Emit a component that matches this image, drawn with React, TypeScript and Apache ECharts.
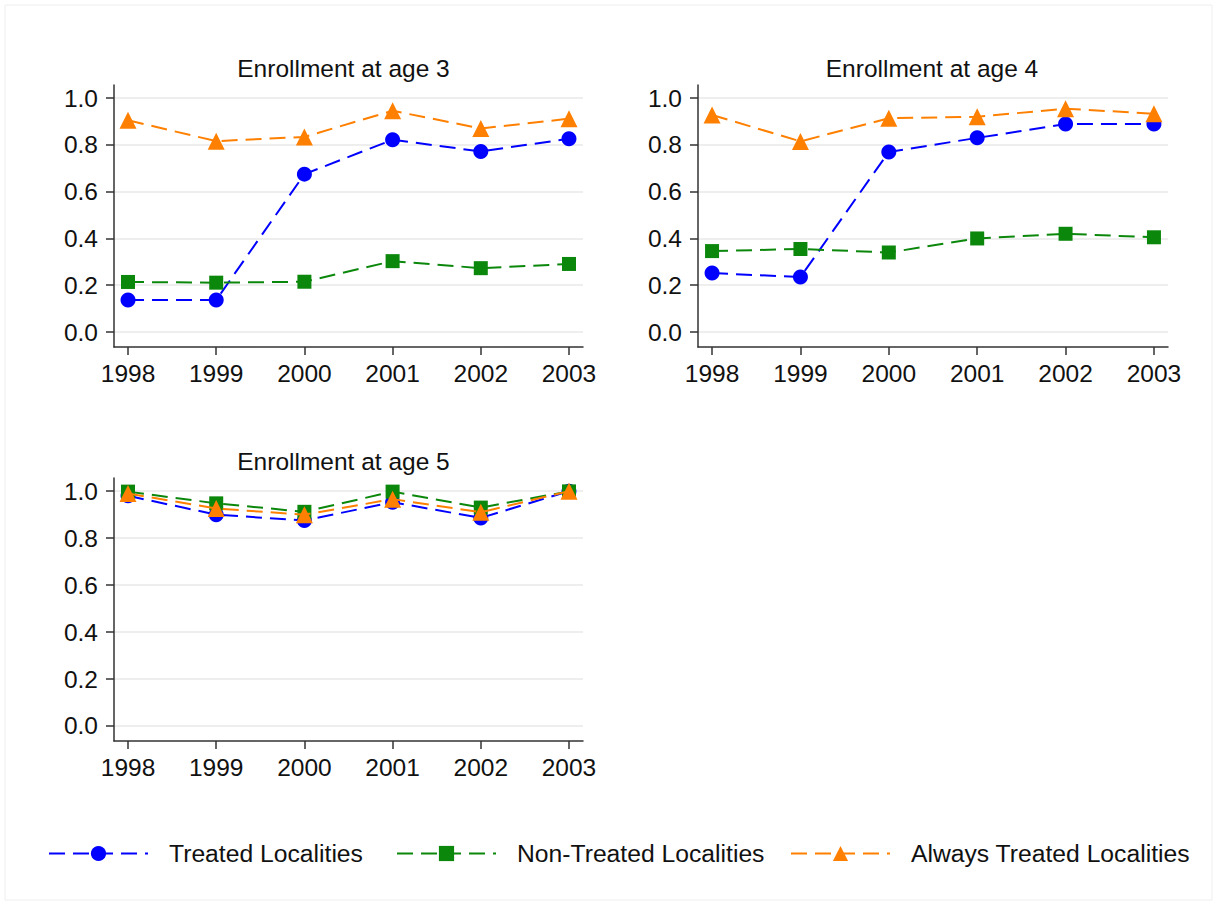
import React, { useEffect, useRef } from "react";
import * as echarts from "echarts";

const years = [1998, 1999, 2000, 2001, 2002, 2003];
const yTicks = [0, 0.2, 0.4, 0.6, 0.8, 1.0];
const panelTitles = ["Enrollment at age 3", "Enrollment at age 4", "Enrollment at age 5"];
const seriesNames = ["Treated Localities", "Non-Treated Localities", "Always Treated Localities"];

const age3Treated = [0.137, 0.137, 0.675, 0.822, 0.772, 0.826];
const age3NonTreated = [0.214, 0.211, 0.215, 0.303, 0.273, 0.291];
const age3Always = [0.905, 0.816, 0.834, 0.946, 0.87, 0.912];

const age4Treated = [0.252, 0.235, 0.77, 0.83, 0.889, 0.889];
const age4NonTreated = [0.346, 0.355, 0.34, 0.4, 0.42, 0.405];
const age4Always = [0.928, 0.815, 0.914, 0.92, 0.955, 0.933];

const age5Treated = [0.98, 0.9, 0.875, 0.953, 0.886, 1.0];
const age5NonTreated = [0.998, 0.948, 0.912, 0.998, 0.93, 0.999];
const age5Always = [0.99, 0.926, 0.9, 0.966, 0.91, 1.0];

const colors = ["#0000ff", "#0b870b", "#ff8000"];
const symbols = ["circle", "rect", "triangle"];
const symbolSizes = [15, 14, 17];

const panels = [
  [age3Treated, age3NonTreated, age3Always],
  [age4Treated, age4NonTreated, age4Always],
  [age5Treated, age5NonTreated, age5Always],
];

const grids = [
  { left: 114, top: 85, width: 469, height: 262 },
  { left: 698, top: 85, width: 470, height: 262 },
  { left: 114, top: 478, width: 469, height: 263 },
];
const titleShift = [-10, -6, -10];

const FONT = "'Liberation Sans', Arial, sans-serif";

export default function App() {
  const ref = useRef<HTMLDivElement>(null);
  useEffect(() => {
    if (!ref.current) return;
    const chart = echarts.init(ref.current, null, { renderer: "svg" });
    const xAxes = grids.map((_, i) => ({
      type: "value",
      gridIndex: i,
      min: 1997.841,
      max: 2003.159,
      axisLine: { show: true, onZero: false, lineStyle: { color: "#333", width: 1.5 } },
      axisTick: { show: true, customValues: years, length: 8, lineStyle: { color: "#333", width: 1.5 } },
      axisLabel: {
        customValues: years,
        formatter: (v: number) => String(Math.round(v)),
        fontSize: 24.5,
        fontFamily: FONT,
        color: "#111",
        margin: 14,
      },
      splitLine: { show: false },
    }));
    const yAxes = grids.map((_, i) => ({
      type: "value",
      gridIndex: i,
      min: -0.064,
      max: 1.056,
      axisLine: { show: true, lineStyle: { color: "#333", width: 1.5 } },
      axisTick: { show: true, customValues: yTicks, length: 8, lineStyle: { color: "#333", width: 1.5 } },
      axisLabel: {
        customValues: yTicks,
        formatter: (v: number) => v.toFixed(1),
        fontSize: 24.5,
        fontFamily: FONT,
        color: "#111",
        margin: 16,
      },
      splitLine: { show: true, lineStyle: { color: "#e8e8e8", width: 1.5 } },
    }));
    const series: any[] = [];
    panels.forEach((panel, p) => {
      panel.forEach((vals, s) => {
        series.push({
          type: "line",
          name: seriesNames[s],
          xAxisIndex: p,
          yAxisIndex: p,
          data: years.map((y, k) => [y, vals[k]]),
          symbol: symbols[s],
          symbolSize: symbolSizes[s],
          color: colors[s],
          itemStyle: { color: colors[s] },
          lineStyle: { color: colors[s], width: 2, type: [16, 8] },
          z: 3 + s,
        });
      });
    });
    const legendLefts = [48, 396, 790];
    const legends = seriesNames.map((n, i) => ({
      data: [n],
      left: legendLefts[i],
      top: 841,
      itemWidth: 99,
      itemHeight: 19,
      padding: 0,
      textStyle: { fontSize: 24.7, fontFamily: FONT, color: "#111", padding: [0, 0, 0, 16] },
      selectedMode: false,
    }));
    chart.setOption({
      animation: false,
      backgroundColor: "#ffffff",
      title: panelTitles.map((t, i) => ({
        text: t,
        left: grids[i].left + grids[i].width / 2 + titleShift[i],
        top: i < 2 ? 51 : 444,
        textAlign: "center",
        textStyle: { fontSize: 24.5, fontWeight: "normal", fontFamily: FONT, color: "#111" },
      })),
      grid: grids,
      xAxis: xAxes,
      yAxis: yAxes,
      legend: legends,
      series,
      graphic: [
        {
          type: "rect",
          shape: { x: 5, y: 5, width: 1207, height: 895 },
          style: { fill: "none", stroke: "#eeeeee", lineWidth: 1 },
          silent: true,
        },
      ],
    });
    return () => chart.dispose();
  }, []);
  return (
    <div
      ref={ref}
      style={{ position: "fixed", left: 0, top: 0, width: 1221, height: 907, background: "#fff" }}
    />
  );
}
